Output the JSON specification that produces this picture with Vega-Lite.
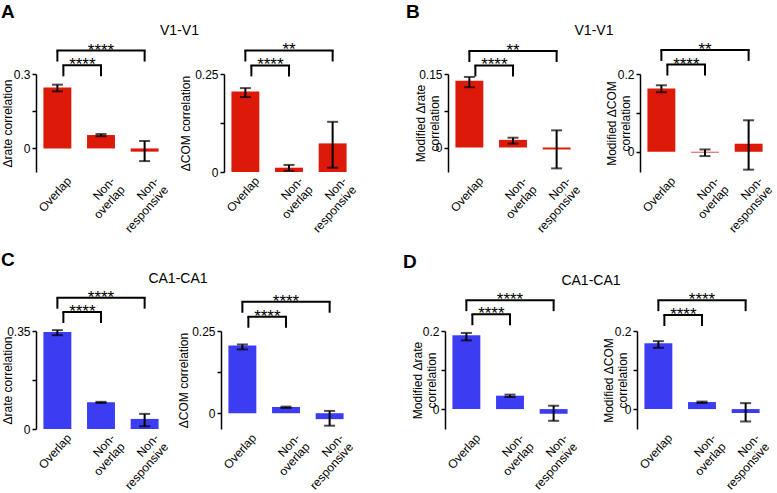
{
 "$schema": "https://vega.github.io/schema/vega-lite/v6.json",
 "padding": {"left": 0, "top": 2, "right": 2, "bottom": 1},
 "datasets": {
  "bars": [
   {"panel": "A1", "group": "Overlap", "value": 0.246, "lo": 0.230, "hi": 0.257},
   {"panel": "A1", "group": "Non-overlap", "value": 0.054, "lo": 0.049, "hi": 0.058},
   {"panel": "A1", "group": "Non-responsive", "value": -0.013, "lo": -0.051, "hi": 0.030},
   {"panel": "A2", "group": "Overlap", "value": 0.2055, "lo": 0.191, "hi": 0.214},
   {"panel": "A2", "group": "Non-overlap", "value": 0.011, "lo": 0.003, "hi": 0.018},
   {"panel": "A2", "group": "Non-responsive", "value": 0.073, "lo": 0.011, "hi": 0.128},
   {"panel": "B1", "group": "Overlap", "value": 0.1364, "lo": 0.123, "hi": 0.144},
   {"panel": "B1", "group": "Non-overlap", "value": 0.0156, "lo": 0.008, "hi": 0.020},
   {"panel": "B1", "group": "Non-responsive", "value": -0.004, "lo": -0.0426, "hi": 0.035},
   {"panel": "B2", "group": "Overlap", "value": 0.163, "lo": 0.153, "hi": 0.171},
   {"panel": "B2", "group": "Non-overlap", "value": -0.002, "lo": -0.011, "hi": 0.006},
   {"panel": "B2", "group": "Non-responsive", "value": 0.0207, "lo": -0.046, "hi": 0.081},
   {"panel": "C1", "group": "Overlap", "value": 0.346, "lo": 0.335, "hi": 0.353},
   {"panel": "C1", "group": "Non-overlap", "value": 0.0956, "lo": 0.093, "hi": 0.097},
   {"panel": "C1", "group": "Non-responsive", "value": 0.036, "lo": 0.0097, "hi": 0.054},
   {"panel": "C2", "group": "Overlap", "value": 0.206, "lo": 0.194, "hi": 0.209},
   {"panel": "C2", "group": "Non-overlap", "value": 0.019, "lo": 0.016, "hi": 0.020},
   {"panel": "C2", "group": "Non-responsive", "value": -0.018, "lo": -0.038, "hi": 0.007},
   {"panel": "D1", "group": "Overlap", "value": 0.189, "lo": 0.176, "hi": 0.195},
   {"panel": "D1", "group": "Non-overlap", "value": 0.0343, "lo": 0.031, "hi": 0.037},
   {"panel": "D1", "group": "Non-responsive", "value": -0.012, "lo": -0.030, "hi": 0.0086},
   {"panel": "D2", "group": "Overlap", "value": 0.1686, "lo": 0.157, "hi": 0.174},
   {"panel": "D2", "group": "Non-overlap", "value": 0.018, "lo": 0.0158, "hi": 0.0192},
   {"panel": "D2", "group": "Non-responsive", "value": -0.010, "lo": -0.0317, "hi": 0.0153}
  ],
  "brackets": [
   {"panel": "A1", "tier": "u", "from": "Overlap", "to": "Non-responsive", "at": "Non-overlap", "level": 0.3945, "stars": "****"},
   {"panel": "A1", "tier": "l", "from": "Overlap", "to": "Non-overlap", "at": "Overlap", "level": 0.335, "stars": "****"},
   {"panel": "A2", "tier": "u", "from": "Overlap", "to": "Non-responsive", "at": "Non-overlap", "level": 0.310, "stars": "**"},
   {"panel": "A2", "tier": "l", "from": "Overlap", "to": "Non-overlap", "at": "Overlap", "level": 0.272, "stars": "****"},
   {"panel": "B1", "tier": "u", "from": "Overlap", "to": "Non-responsive", "at": "Non-overlap", "level": 0.197, "stars": "**"},
   {"panel": "B1", "tier": "l", "from": "Overlap", "to": "Non-overlap", "at": "Overlap", "level": 0.1676, "stars": "****"},
   {"panel": "B2", "tier": "u", "from": "Overlap", "to": "Non-responsive", "at": "Non-overlap", "level": 0.262, "stars": "**"},
   {"panel": "B2", "tier": "l", "from": "Overlap", "to": "Non-overlap", "at": "Overlap", "level": 0.2243, "stars": "****"},
   {"panel": "C1", "tier": "u", "from": "Overlap", "to": "Non-responsive", "at": "Non-overlap", "level": 0.469, "stars": "****"},
   {"panel": "C1", "tier": "l", "from": "Overlap", "to": "Non-overlap", "at": "Overlap", "level": 0.418, "stars": "****"},
   {"panel": "C2", "tier": "u", "from": "Overlap", "to": "Non-responsive", "at": "Non-overlap", "level": 0.339, "stars": "****"},
   {"panel": "C2", "tier": "l", "from": "Overlap", "to": "Non-overlap", "at": "Overlap", "level": 0.2934, "stars": "****"},
   {"panel": "D1", "tier": "u", "from": "Overlap", "to": "Non-responsive", "at": "Non-overlap", "level": 0.279, "stars": "****"},
   {"panel": "D1", "tier": "l", "from": "Overlap", "to": "Non-overlap", "at": "Overlap", "level": 0.243, "stars": "****"},
   {"panel": "D2", "tier": "u", "from": "Overlap", "to": "Non-responsive", "at": "Non-overlap", "level": 0.279, "stars": "****"},
   {"panel": "D2", "tier": "l", "from": "Overlap", "to": "Non-overlap", "at": "Overlap", "level": 0.241, "stars": "****"}
  ]
 },
 "spacing": 15,
 "vconcat": [
  {"spacing": 47, "hconcat": [
   {"title": {"text": "A", "anchor": "start", "fontSize": 19, "fontWeight": "bold", "offset": 2}, "vconcat": [
    {"title": {"text": "V1-V1", "anchor": "middle", "fontSize": 14, "fontWeight": "normal", "offset": 3}, "spacing": 8, "hconcat": [
     {"width": 130, "height": 98, "layer": [
      {"data": {"name": "bars"}, "transform": [{"filter": "datum.panel == 'A1'"}],
       "encoding": {"x": {"field": "group", "type": "nominal", "scale": {"domain": ["Overlap", "Non-overlap", "Non-responsive"], "paddingInner": 0.36, "paddingOuter": 0.17}, "axis": {"title": null, "labelExpr": "datum.label == 'Non-overlap' ? ['Non-', 'overlap'] : datum.label == 'Non-responsive' ? ['Non-', 'responsive'] : datum.label"}}},
       "layer": [
        {"mark": {"type": "bar", "color": "#dd1a0a"}, "encoding": {"y": {"field": "value", "type": "quantitative", "scale": {"domain": [-0.095, 0.3], "nice": false, "zero": false}, "axis": {"values": [0, 0.15, 0.3], "labelExpr": "datum.value == 0.15 ? '' : format(datum.value, '~g')", "title": "Δrate correlation", "titleX": -22}}, "y2": {"datum": 0}}},
        {"mark": {"type": "rule", "color": "black", "strokeWidth": 2}, "encoding": {"y": {"field": "lo", "type": "quantitative"}, "y2": {"field": "hi"}}},
        {"mark": {"type": "tick", "color": "black", "size": 11, "thickness": 2}, "encoding": {"y": {"field": "lo", "type": "quantitative"}}},
        {"mark": {"type": "tick", "color": "black", "size": 11, "thickness": 2}, "encoding": {"y": {"field": "hi", "type": "quantitative"}}}
       ]},
      {"data": {"name": "brackets"}, "transform": [{"filter": "datum.panel == 'A1'"}], "layer": [
       {"transform": [{"filter": "datum.tier == 'u'"}], "layer": [
        {"mark": {"type": "rule", "color": "black", "strokeWidth": 2, "strokeCap": "square"}, "encoding": {"x": {"field": "from", "type": "nominal"}, "x2": {"field": "to"}, "y": {"field": "level", "type": "quantitative"}}},
        {"mark": {"type": "rule", "color": "black", "strokeWidth": 2, "y2Offset": 11}, "encoding": {"x": {"field": "from", "type": "nominal"}, "y": {"field": "level", "type": "quantitative"}, "y2": {"field": "level"}}},
        {"mark": {"type": "rule", "color": "black", "strokeWidth": 2, "y2Offset": 11}, "encoding": {"x": {"field": "to", "type": "nominal"}, "y": {"field": "level", "type": "quantitative"}, "y2": {"field": "level"}}},
        {"mark": {"type": "text", "fontSize": 17, "baseline": "alphabetic", "dy": 5, "color": "black"}, "encoding": {"x": {"field": "at", "type": "nominal"}, "y": {"field": "level", "type": "quantitative"}, "text": {"field": "stars"}}}
       ]},
       {"transform": [{"filter": "datum.tier == 'l'"}], "layer": [
        {"mark": {"type": "rule", "color": "black", "strokeWidth": 2, "strokeCap": "square", "xOffset": 6}, "encoding": {"x": {"field": "from", "type": "nominal"}, "x2": {"field": "to"}, "y": {"field": "level", "type": "quantitative"}}},
        {"mark": {"type": "rule", "color": "black", "strokeWidth": 2, "y2Offset": 11, "xOffset": 6}, "encoding": {"x": {"field": "from", "type": "nominal"}, "y": {"field": "level", "type": "quantitative"}, "y2": {"field": "level"}}},
        {"mark": {"type": "rule", "color": "black", "strokeWidth": 2, "y2Offset": 11}, "encoding": {"x": {"field": "to", "type": "nominal"}, "y": {"field": "level", "type": "quantitative"}, "y2": {"field": "level"}}},
        {"mark": {"type": "text", "fontSize": 17, "baseline": "alphabetic", "dy": 5, "dx": 25, "color": "black"}, "encoding": {"x": {"field": "at", "type": "nominal"}, "y": {"field": "level", "type": "quantitative"}, "text": {"field": "stars"}}}
       ]}
      ]}
     ]},
     {"width": 130, "height": 98, "layer": [
      {"data": {"name": "bars"}, "transform": [{"filter": "datum.panel == 'A2'"}],
       "encoding": {"x": {"field": "group", "type": "nominal", "scale": {"domain": ["Overlap", "Non-overlap", "Non-responsive"], "paddingInner": 0.36, "paddingOuter": 0.17}, "axis": {"title": null, "labelExpr": "datum.label == 'Non-overlap' ? ['Non-', 'overlap'] : datum.label == 'Non-responsive' ? ['Non-', 'responsive'] : datum.label"}}},
       "layer": [
        {"mark": {"type": "bar", "color": "#dd1a0a"}, "encoding": {"y": {"field": "value", "type": "quantitative", "scale": {"domain": [0, 0.25], "nice": false, "zero": false}, "axis": {"values": [0, 0.125, 0.25], "labelExpr": "datum.value == 0.125 ? '' : format(datum.value, '~g')", "title": "ΔCOM correlation", "titleX": -32}}, "y2": {"datum": 0}}},
        {"mark": {"type": "rule", "color": "black", "strokeWidth": 2}, "encoding": {"y": {"field": "lo", "type": "quantitative"}, "y2": {"field": "hi"}}},
        {"mark": {"type": "tick", "color": "black", "size": 11, "thickness": 2}, "encoding": {"y": {"field": "lo", "type": "quantitative"}}},
        {"mark": {"type": "tick", "color": "black", "size": 11, "thickness": 2}, "encoding": {"y": {"field": "hi", "type": "quantitative"}}}
       ]},
      {"data": {"name": "brackets"}, "transform": [{"filter": "datum.panel == 'A2'"}], "layer": [
       {"transform": [{"filter": "datum.tier == 'u'"}], "layer": [
        {"mark": {"type": "rule", "color": "black", "strokeWidth": 2, "strokeCap": "square"}, "encoding": {"x": {"field": "from", "type": "nominal"}, "x2": {"field": "to"}, "y": {"field": "level", "type": "quantitative"}}},
        {"mark": {"type": "rule", "color": "black", "strokeWidth": 2, "y2Offset": 11}, "encoding": {"x": {"field": "from", "type": "nominal"}, "y": {"field": "level", "type": "quantitative"}, "y2": {"field": "level"}}},
        {"mark": {"type": "rule", "color": "black", "strokeWidth": 2, "y2Offset": 11}, "encoding": {"x": {"field": "to", "type": "nominal"}, "y": {"field": "level", "type": "quantitative"}, "y2": {"field": "level"}}},
        {"mark": {"type": "text", "fontSize": 17, "baseline": "alphabetic", "dy": 5, "color": "black"}, "encoding": {"x": {"field": "at", "type": "nominal"}, "y": {"field": "level", "type": "quantitative"}, "text": {"field": "stars"}}}
       ]},
       {"transform": [{"filter": "datum.tier == 'l'"}], "layer": [
        {"mark": {"type": "rule", "color": "black", "strokeWidth": 2, "strokeCap": "square", "xOffset": 6}, "encoding": {"x": {"field": "from", "type": "nominal"}, "x2": {"field": "to"}, "y": {"field": "level", "type": "quantitative"}}},
        {"mark": {"type": "rule", "color": "black", "strokeWidth": 2, "y2Offset": 11, "xOffset": 6}, "encoding": {"x": {"field": "from", "type": "nominal"}, "y": {"field": "level", "type": "quantitative"}, "y2": {"field": "level"}}},
        {"mark": {"type": "rule", "color": "black", "strokeWidth": 2, "y2Offset": 11}, "encoding": {"x": {"field": "to", "type": "nominal"}, "y": {"field": "level", "type": "quantitative"}, "y2": {"field": "level"}}},
        {"mark": {"type": "text", "fontSize": 17, "baseline": "alphabetic", "dy": 5, "dx": 25, "color": "black"}, "encoding": {"x": {"field": "at", "type": "nominal"}, "y": {"field": "level", "type": "quantitative"}, "text": {"field": "stars"}}}
       ]}
      ]}
     ]}
    ]}
   ]},
   {"title": {"text": "B", "anchor": "start", "fontSize": 19, "fontWeight": "bold", "offset": 2, "dx": -8}, "vconcat": [
    {"title": {"text": "V1-V1", "anchor": "middle", "fontSize": 14, "fontWeight": "normal", "offset": 3}, "spacing": 22, "hconcat": [
     {"width": 130, "height": 98, "layer": [
      {"data": {"name": "bars"}, "transform": [{"filter": "datum.panel == 'B1'"}],
       "encoding": {"x": {"field": "group", "type": "nominal", "scale": {"domain": ["Overlap", "Non-overlap", "Non-responsive"], "paddingInner": 0.36, "paddingOuter": 0.17}, "axis": {"title": null, "labelExpr": "datum.label == 'Non-overlap' ? ['Non-', 'overlap'] : datum.label == 'Non-responsive' ? ['Non-', 'responsive'] : datum.label"}}},
       "layer": [
        {"mark": {"type": "bar", "color": "#dd1a0a"}, "encoding": {"y": {"field": "value", "type": "quantitative", "scale": {"domain": [-0.05, 0.15], "nice": false, "zero": false}, "axis": {"values": [0, 0.075, 0.15], "labelExpr": "datum.value == 0.075 ? '' : format(datum.value, '~g')", "title": ["Modified Δrate", "correlation"], "titleX": -21}}, "y2": {"datum": 0}}},
        {"mark": {"type": "rule", "color": "black", "strokeWidth": 2}, "encoding": {"y": {"field": "lo", "type": "quantitative"}, "y2": {"field": "hi"}}},
        {"mark": {"type": "tick", "color": "black", "size": 11, "thickness": 2}, "encoding": {"y": {"field": "lo", "type": "quantitative"}}},
        {"mark": {"type": "tick", "color": "black", "size": 11, "thickness": 2}, "encoding": {"y": {"field": "hi", "type": "quantitative"}}}
       ]},
      {"data": {"name": "brackets"}, "transform": [{"filter": "datum.panel == 'B1'"}], "layer": [
       {"transform": [{"filter": "datum.tier == 'u'"}], "layer": [
        {"mark": {"type": "rule", "color": "black", "strokeWidth": 2, "strokeCap": "square"}, "encoding": {"x": {"field": "from", "type": "nominal"}, "x2": {"field": "to"}, "y": {"field": "level", "type": "quantitative"}}},
        {"mark": {"type": "rule", "color": "black", "strokeWidth": 2, "y2Offset": 11}, "encoding": {"x": {"field": "from", "type": "nominal"}, "y": {"field": "level", "type": "quantitative"}, "y2": {"field": "level"}}},
        {"mark": {"type": "rule", "color": "black", "strokeWidth": 2, "y2Offset": 11}, "encoding": {"x": {"field": "to", "type": "nominal"}, "y": {"field": "level", "type": "quantitative"}, "y2": {"field": "level"}}},
        {"mark": {"type": "text", "fontSize": 17, "baseline": "alphabetic", "dy": 5, "color": "black"}, "encoding": {"x": {"field": "at", "type": "nominal"}, "y": {"field": "level", "type": "quantitative"}, "text": {"field": "stars"}}}
       ]},
       {"transform": [{"filter": "datum.tier == 'l'"}], "layer": [
        {"mark": {"type": "rule", "color": "black", "strokeWidth": 2, "strokeCap": "square", "xOffset": 6}, "encoding": {"x": {"field": "from", "type": "nominal"}, "x2": {"field": "to"}, "y": {"field": "level", "type": "quantitative"}}},
        {"mark": {"type": "rule", "color": "black", "strokeWidth": 2, "y2Offset": 11, "xOffset": 6}, "encoding": {"x": {"field": "from", "type": "nominal"}, "y": {"field": "level", "type": "quantitative"}, "y2": {"field": "level"}}},
        {"mark": {"type": "rule", "color": "black", "strokeWidth": 2, "y2Offset": 11}, "encoding": {"x": {"field": "to", "type": "nominal"}, "y": {"field": "level", "type": "quantitative"}, "y2": {"field": "level"}}},
        {"mark": {"type": "text", "fontSize": 17, "baseline": "alphabetic", "dy": 5, "dx": 25, "color": "black"}, "encoding": {"x": {"field": "at", "type": "nominal"}, "y": {"field": "level", "type": "quantitative"}, "text": {"field": "stars"}}}
       ]}
      ]}
     ]},
     {"width": 130, "height": 98, "layer": [
      {"data": {"name": "bars"}, "transform": [{"filter": "datum.panel == 'B2'"}],
       "encoding": {"x": {"field": "group", "type": "nominal", "scale": {"domain": ["Overlap", "Non-overlap", "Non-responsive"], "paddingInner": 0.36, "paddingOuter": 0.17}, "axis": {"title": null, "labelExpr": "datum.label == 'Non-overlap' ? ['Non-', 'overlap'] : datum.label == 'Non-responsive' ? ['Non-', 'responsive'] : datum.label"}}},
       "layer": [
        {"mark": {"type": "bar", "color": "#dd1a0a"}, "encoding": {"y": {"field": "value", "type": "quantitative", "scale": {"domain": [-0.052, 0.2], "nice": false, "zero": false}, "axis": {"values": [0, 0.1, 0.2], "labelExpr": "datum.value == 0.1 ? '' : format(datum.value, '~g')", "title": ["Modified ΔCOM", "correlation"], "titleX": -22}}, "y2": {"datum": 0}}},
        {"mark": {"type": "rule", "color": "black", "strokeWidth": 2}, "encoding": {"y": {"field": "lo", "type": "quantitative"}, "y2": {"field": "hi"}}},
        {"mark": {"type": "tick", "color": "black", "size": 11, "thickness": 2}, "encoding": {"y": {"field": "lo", "type": "quantitative"}}},
        {"mark": {"type": "tick", "color": "black", "size": 11, "thickness": 2}, "encoding": {"y": {"field": "hi", "type": "quantitative"}}}
       ]},
      {"data": {"name": "brackets"}, "transform": [{"filter": "datum.panel == 'B2'"}], "layer": [
       {"transform": [{"filter": "datum.tier == 'u'"}], "layer": [
        {"mark": {"type": "rule", "color": "black", "strokeWidth": 2, "strokeCap": "square"}, "encoding": {"x": {"field": "from", "type": "nominal"}, "x2": {"field": "to"}, "y": {"field": "level", "type": "quantitative"}}},
        {"mark": {"type": "rule", "color": "black", "strokeWidth": 2, "y2Offset": 11}, "encoding": {"x": {"field": "from", "type": "nominal"}, "y": {"field": "level", "type": "quantitative"}, "y2": {"field": "level"}}},
        {"mark": {"type": "rule", "color": "black", "strokeWidth": 2, "y2Offset": 11}, "encoding": {"x": {"field": "to", "type": "nominal"}, "y": {"field": "level", "type": "quantitative"}, "y2": {"field": "level"}}},
        {"mark": {"type": "text", "fontSize": 17, "baseline": "alphabetic", "dy": 5, "color": "black"}, "encoding": {"x": {"field": "at", "type": "nominal"}, "y": {"field": "level", "type": "quantitative"}, "text": {"field": "stars"}}}
       ]},
       {"transform": [{"filter": "datum.tier == 'l'"}], "layer": [
        {"mark": {"type": "rule", "color": "black", "strokeWidth": 2, "strokeCap": "square", "xOffset": 6}, "encoding": {"x": {"field": "from", "type": "nominal"}, "x2": {"field": "to"}, "y": {"field": "level", "type": "quantitative"}}},
        {"mark": {"type": "rule", "color": "black", "strokeWidth": 2, "y2Offset": 11, "xOffset": 6}, "encoding": {"x": {"field": "from", "type": "nominal"}, "y": {"field": "level", "type": "quantitative"}, "y2": {"field": "level"}}},
        {"mark": {"type": "rule", "color": "black", "strokeWidth": 2, "y2Offset": 11}, "encoding": {"x": {"field": "to", "type": "nominal"}, "y": {"field": "level", "type": "quantitative"}, "y2": {"field": "level"}}},
        {"mark": {"type": "text", "fontSize": 17, "baseline": "alphabetic", "dy": 5, "dx": 25, "color": "black"}, "encoding": {"x": {"field": "at", "type": "nominal"}, "y": {"field": "level", "type": "quantitative"}, "text": {"field": "stars"}}}
       ]}
      ]}
     ]}
    ]}
   ]}
  ]},
  {"spacing": 47, "hconcat": [
   {"title": {"text": "C", "anchor": "start", "fontSize": 19, "fontWeight": "bold", "offset": 2}, "vconcat": [
    {"title": {"text": "CA1-CA1", "anchor": "middle", "fontSize": 14, "fontWeight": "normal", "offset": 3}, "spacing": 6, "hconcat": [
     {"width": 130, "height": 98, "layer": [
      {"data": {"name": "bars"}, "transform": [{"filter": "datum.panel == 'C1'"}],
       "encoding": {"x": {"field": "group", "type": "nominal", "scale": {"domain": ["Overlap", "Non-overlap", "Non-responsive"], "paddingInner": 0.36, "paddingOuter": 0.17}, "axis": {"title": null, "labelExpr": "datum.label == 'Non-overlap' ? ['Non-', 'overlap'] : datum.label == 'Non-responsive' ? ['Non-', 'responsive'] : datum.label"}}},
       "layer": [
        {"mark": {"type": "bar", "color": "#3c3cf2"}, "encoding": {"y": {"field": "value", "type": "quantitative", "scale": {"domain": [0, 0.35], "nice": false, "zero": false}, "axis": {"values": [0, 0.175, 0.35], "labelExpr": "datum.value == 0.175 ? '' : format(datum.value, '~g')", "title": "Δrate correlation", "titleX": -22}}, "y2": {"datum": 0}}},
        {"mark": {"type": "rule", "color": "black", "strokeWidth": 2}, "encoding": {"y": {"field": "lo", "type": "quantitative"}, "y2": {"field": "hi"}}},
        {"mark": {"type": "tick", "color": "black", "size": 11, "thickness": 2}, "encoding": {"y": {"field": "lo", "type": "quantitative"}}},
        {"mark": {"type": "tick", "color": "black", "size": 11, "thickness": 2}, "encoding": {"y": {"field": "hi", "type": "quantitative"}}}
       ]},
      {"data": {"name": "brackets"}, "transform": [{"filter": "datum.panel == 'C1'"}], "layer": [
       {"transform": [{"filter": "datum.tier == 'u'"}], "layer": [
        {"mark": {"type": "rule", "color": "black", "strokeWidth": 2, "strokeCap": "square"}, "encoding": {"x": {"field": "from", "type": "nominal"}, "x2": {"field": "to"}, "y": {"field": "level", "type": "quantitative"}}},
        {"mark": {"type": "rule", "color": "black", "strokeWidth": 2, "y2Offset": 11}, "encoding": {"x": {"field": "from", "type": "nominal"}, "y": {"field": "level", "type": "quantitative"}, "y2": {"field": "level"}}},
        {"mark": {"type": "rule", "color": "black", "strokeWidth": 2, "y2Offset": 11}, "encoding": {"x": {"field": "to", "type": "nominal"}, "y": {"field": "level", "type": "quantitative"}, "y2": {"field": "level"}}},
        {"mark": {"type": "text", "fontSize": 17, "baseline": "alphabetic", "dy": 5, "color": "black"}, "encoding": {"x": {"field": "at", "type": "nominal"}, "y": {"field": "level", "type": "quantitative"}, "text": {"field": "stars"}}}
       ]},
       {"transform": [{"filter": "datum.tier == 'l'"}], "layer": [
        {"mark": {"type": "rule", "color": "black", "strokeWidth": 2, "strokeCap": "square", "xOffset": 6}, "encoding": {"x": {"field": "from", "type": "nominal"}, "x2": {"field": "to"}, "y": {"field": "level", "type": "quantitative"}}},
        {"mark": {"type": "rule", "color": "black", "strokeWidth": 2, "y2Offset": 11, "xOffset": 6}, "encoding": {"x": {"field": "from", "type": "nominal"}, "y": {"field": "level", "type": "quantitative"}, "y2": {"field": "level"}}},
        {"mark": {"type": "rule", "color": "black", "strokeWidth": 2, "y2Offset": 11}, "encoding": {"x": {"field": "to", "type": "nominal"}, "y": {"field": "level", "type": "quantitative"}, "y2": {"field": "level"}}},
        {"mark": {"type": "text", "fontSize": 17, "baseline": "alphabetic", "dy": 5, "dx": 25, "color": "black"}, "encoding": {"x": {"field": "at", "type": "nominal"}, "y": {"field": "level", "type": "quantitative"}, "text": {"field": "stars"}}}
       ]}
      ]}
     ]},
     {"width": 130, "height": 98, "layer": [
      {"data": {"name": "bars"}, "transform": [{"filter": "datum.panel == 'C2'"}],
       "encoding": {"x": {"field": "group", "type": "nominal", "scale": {"domain": ["Overlap", "Non-overlap", "Non-responsive"], "paddingInner": 0.36, "paddingOuter": 0.17}, "axis": {"title": null, "labelExpr": "datum.label == 'Non-overlap' ? ['Non-', 'overlap'] : datum.label == 'Non-responsive' ? ['Non-', 'responsive'] : datum.label"}}},
       "layer": [
        {"mark": {"type": "bar", "color": "#3c3cf2"}, "encoding": {"y": {"field": "value", "type": "quantitative", "scale": {"domain": [-0.048, 0.25], "nice": false, "zero": false}, "axis": {"values": [0, 0.125, 0.25], "labelExpr": "datum.value == 0.125 ? '' : format(datum.value, '~g')", "title": "ΔCOM correlation", "titleX": -31}}, "y2": {"datum": 0}}},
        {"mark": {"type": "rule", "color": "black", "strokeWidth": 2}, "encoding": {"y": {"field": "lo", "type": "quantitative"}, "y2": {"field": "hi"}}},
        {"mark": {"type": "tick", "color": "black", "size": 11, "thickness": 2}, "encoding": {"y": {"field": "lo", "type": "quantitative"}}},
        {"mark": {"type": "tick", "color": "black", "size": 11, "thickness": 2}, "encoding": {"y": {"field": "hi", "type": "quantitative"}}}
       ]},
      {"data": {"name": "brackets"}, "transform": [{"filter": "datum.panel == 'C2'"}], "layer": [
       {"transform": [{"filter": "datum.tier == 'u'"}], "layer": [
        {"mark": {"type": "rule", "color": "black", "strokeWidth": 2, "strokeCap": "square"}, "encoding": {"x": {"field": "from", "type": "nominal"}, "x2": {"field": "to"}, "y": {"field": "level", "type": "quantitative"}}},
        {"mark": {"type": "rule", "color": "black", "strokeWidth": 2, "y2Offset": 11}, "encoding": {"x": {"field": "from", "type": "nominal"}, "y": {"field": "level", "type": "quantitative"}, "y2": {"field": "level"}}},
        {"mark": {"type": "rule", "color": "black", "strokeWidth": 2, "y2Offset": 11}, "encoding": {"x": {"field": "to", "type": "nominal"}, "y": {"field": "level", "type": "quantitative"}, "y2": {"field": "level"}}},
        {"mark": {"type": "text", "fontSize": 17, "baseline": "alphabetic", "dy": 5, "color": "black"}, "encoding": {"x": {"field": "at", "type": "nominal"}, "y": {"field": "level", "type": "quantitative"}, "text": {"field": "stars"}}}
       ]},
       {"transform": [{"filter": "datum.tier == 'l'"}], "layer": [
        {"mark": {"type": "rule", "color": "black", "strokeWidth": 2, "strokeCap": "square", "xOffset": 6}, "encoding": {"x": {"field": "from", "type": "nominal"}, "x2": {"field": "to"}, "y": {"field": "level", "type": "quantitative"}}},
        {"mark": {"type": "rule", "color": "black", "strokeWidth": 2, "y2Offset": 11, "xOffset": 6}, "encoding": {"x": {"field": "from", "type": "nominal"}, "y": {"field": "level", "type": "quantitative"}, "y2": {"field": "level"}}},
        {"mark": {"type": "rule", "color": "black", "strokeWidth": 2, "y2Offset": 11}, "encoding": {"x": {"field": "to", "type": "nominal"}, "y": {"field": "level", "type": "quantitative"}, "y2": {"field": "level"}}},
        {"mark": {"type": "text", "fontSize": 17, "baseline": "alphabetic", "dy": 5, "dx": 25, "color": "black"}, "encoding": {"x": {"field": "at", "type": "nominal"}, "y": {"field": "level", "type": "quantitative"}, "text": {"field": "stars"}}}
       ]}
      ]}
     ]}
    ]}
   ]},
   {"title": {"text": "D", "anchor": "start", "fontSize": 19, "fontWeight": "bold", "offset": 2, "dx": -8}, "vconcat": [
    {"title": {"text": "CA1-CA1", "anchor": "middle", "fontSize": 14, "fontWeight": "normal", "offset": 3}, "spacing": 22, "hconcat": [
     {"width": 130, "height": 98, "layer": [
      {"data": {"name": "bars"}, "transform": [{"filter": "datum.panel == 'D1'"}],
       "encoding": {"x": {"field": "group", "type": "nominal", "scale": {"domain": ["Overlap", "Non-overlap", "Non-responsive"], "paddingInner": 0.36, "paddingOuter": 0.17}, "axis": {"title": null, "labelExpr": "datum.label == 'Non-overlap' ? ['Non-', 'overlap'] : datum.label == 'Non-responsive' ? ['Non-', 'responsive'] : datum.label"}}},
       "layer": [
        {"mark": {"type": "bar", "color": "#3c3cf2"}, "encoding": {"y": {"field": "value", "type": "quantitative", "scale": {"domain": [-0.051, 0.2], "nice": false, "zero": false}, "axis": {"values": [0, 0.1, 0.2], "labelExpr": "datum.value == 0.1 ? '' : format(datum.value, '~g')", "title": ["Modified Δrate", "correlation"], "titleX": -21}}, "y2": {"datum": 0}}},
        {"mark": {"type": "rule", "color": "black", "strokeWidth": 2}, "encoding": {"y": {"field": "lo", "type": "quantitative"}, "y2": {"field": "hi"}}},
        {"mark": {"type": "tick", "color": "black", "size": 11, "thickness": 2}, "encoding": {"y": {"field": "lo", "type": "quantitative"}}},
        {"mark": {"type": "tick", "color": "black", "size": 11, "thickness": 2}, "encoding": {"y": {"field": "hi", "type": "quantitative"}}}
       ]},
      {"data": {"name": "brackets"}, "transform": [{"filter": "datum.panel == 'D1'"}], "layer": [
       {"transform": [{"filter": "datum.tier == 'u'"}], "layer": [
        {"mark": {"type": "rule", "color": "black", "strokeWidth": 2, "strokeCap": "square"}, "encoding": {"x": {"field": "from", "type": "nominal"}, "x2": {"field": "to"}, "y": {"field": "level", "type": "quantitative"}}},
        {"mark": {"type": "rule", "color": "black", "strokeWidth": 2, "y2Offset": 11}, "encoding": {"x": {"field": "from", "type": "nominal"}, "y": {"field": "level", "type": "quantitative"}, "y2": {"field": "level"}}},
        {"mark": {"type": "rule", "color": "black", "strokeWidth": 2, "y2Offset": 11}, "encoding": {"x": {"field": "to", "type": "nominal"}, "y": {"field": "level", "type": "quantitative"}, "y2": {"field": "level"}}},
        {"mark": {"type": "text", "fontSize": 17, "baseline": "alphabetic", "dy": 5, "color": "black"}, "encoding": {"x": {"field": "at", "type": "nominal"}, "y": {"field": "level", "type": "quantitative"}, "text": {"field": "stars"}}}
       ]},
       {"transform": [{"filter": "datum.tier == 'l'"}], "layer": [
        {"mark": {"type": "rule", "color": "black", "strokeWidth": 2, "strokeCap": "square", "xOffset": 6}, "encoding": {"x": {"field": "from", "type": "nominal"}, "x2": {"field": "to"}, "y": {"field": "level", "type": "quantitative"}}},
        {"mark": {"type": "rule", "color": "black", "strokeWidth": 2, "y2Offset": 11, "xOffset": 6}, "encoding": {"x": {"field": "from", "type": "nominal"}, "y": {"field": "level", "type": "quantitative"}, "y2": {"field": "level"}}},
        {"mark": {"type": "rule", "color": "black", "strokeWidth": 2, "y2Offset": 11}, "encoding": {"x": {"field": "to", "type": "nominal"}, "y": {"field": "level", "type": "quantitative"}, "y2": {"field": "level"}}},
        {"mark": {"type": "text", "fontSize": 17, "baseline": "alphabetic", "dy": 5, "dx": 25, "color": "black"}, "encoding": {"x": {"field": "at", "type": "nominal"}, "y": {"field": "level", "type": "quantitative"}, "text": {"field": "stars"}}}
       ]}
      ]}
     ]},
     {"width": 130, "height": 98, "layer": [
      {"data": {"name": "bars"}, "transform": [{"filter": "datum.panel == 'D2'"}],
       "encoding": {"x": {"field": "group", "type": "nominal", "scale": {"domain": ["Overlap", "Non-overlap", "Non-responsive"], "paddingInner": 0.36, "paddingOuter": 0.17}, "axis": {"title": null, "labelExpr": "datum.label == 'Non-overlap' ? ['Non-', 'overlap'] : datum.label == 'Non-responsive' ? ['Non-', 'responsive'] : datum.label"}}},
       "layer": [
        {"mark": {"type": "bar", "color": "#3c3cf2"}, "encoding": {"y": {"field": "value", "type": "quantitative", "scale": {"domain": [-0.051, 0.2], "nice": false, "zero": false}, "axis": {"values": [0, 0.1, 0.2], "labelExpr": "datum.value == 0.1 ? '' : format(datum.value, '~g')", "title": ["Modified ΔCOM", "correlation"], "titleX": -22}}, "y2": {"datum": 0}}},
        {"mark": {"type": "rule", "color": "black", "strokeWidth": 2}, "encoding": {"y": {"field": "lo", "type": "quantitative"}, "y2": {"field": "hi"}}},
        {"mark": {"type": "tick", "color": "black", "size": 11, "thickness": 2}, "encoding": {"y": {"field": "lo", "type": "quantitative"}}},
        {"mark": {"type": "tick", "color": "black", "size": 11, "thickness": 2}, "encoding": {"y": {"field": "hi", "type": "quantitative"}}}
       ]},
      {"data": {"name": "brackets"}, "transform": [{"filter": "datum.panel == 'D2'"}], "layer": [
       {"transform": [{"filter": "datum.tier == 'u'"}], "layer": [
        {"mark": {"type": "rule", "color": "black", "strokeWidth": 2, "strokeCap": "square"}, "encoding": {"x": {"field": "from", "type": "nominal"}, "x2": {"field": "to"}, "y": {"field": "level", "type": "quantitative"}}},
        {"mark": {"type": "rule", "color": "black", "strokeWidth": 2, "y2Offset": 11}, "encoding": {"x": {"field": "from", "type": "nominal"}, "y": {"field": "level", "type": "quantitative"}, "y2": {"field": "level"}}},
        {"mark": {"type": "rule", "color": "black", "strokeWidth": 2, "y2Offset": 11}, "encoding": {"x": {"field": "to", "type": "nominal"}, "y": {"field": "level", "type": "quantitative"}, "y2": {"field": "level"}}},
        {"mark": {"type": "text", "fontSize": 17, "baseline": "alphabetic", "dy": 5, "color": "black"}, "encoding": {"x": {"field": "at", "type": "nominal"}, "y": {"field": "level", "type": "quantitative"}, "text": {"field": "stars"}}}
       ]},
       {"transform": [{"filter": "datum.tier == 'l'"}], "layer": [
        {"mark": {"type": "rule", "color": "black", "strokeWidth": 2, "strokeCap": "square", "xOffset": 6}, "encoding": {"x": {"field": "from", "type": "nominal"}, "x2": {"field": "to"}, "y": {"field": "level", "type": "quantitative"}}},
        {"mark": {"type": "rule", "color": "black", "strokeWidth": 2, "y2Offset": 11, "xOffset": 6}, "encoding": {"x": {"field": "from", "type": "nominal"}, "y": {"field": "level", "type": "quantitative"}, "y2": {"field": "level"}}},
        {"mark": {"type": "rule", "color": "black", "strokeWidth": 2, "y2Offset": 11}, "encoding": {"x": {"field": "to", "type": "nominal"}, "y": {"field": "level", "type": "quantitative"}, "y2": {"field": "level"}}},
        {"mark": {"type": "text", "fontSize": 17, "baseline": "alphabetic", "dy": 5, "dx": 25, "color": "black"}, "encoding": {"x": {"field": "at", "type": "nominal"}, "y": {"field": "level", "type": "quantitative"}, "text": {"field": "stars"}}}
       ]}
      ]}
     ]}
    ]}
   ]}
  ]}
 ],
 "config": {
  "font": "Liberation Sans",
  "view": {"stroke": null},
  "axis": {"grid": false, "domainColor": "black", "tickColor": "black", "labelColor": "black", "titleColor": "black", "labelFontSize": 12, "titleFontSize": 12, "titleFontWeight": "normal"},
  "axisY": {"domainWidth": 1.5, "tickWidth": 1.5, "tickSize": 4, "labelPadding": 2, "titleBaseline": "bottom"},
  "axisX": {"domain": false, "ticks": false, "labelAngle": -48, "labelBaseline": "top", "labelOffset": 8, "labelPadding": 3, "labelLineHeight": 13},
  "title": {"color": "black"}
 }
}
